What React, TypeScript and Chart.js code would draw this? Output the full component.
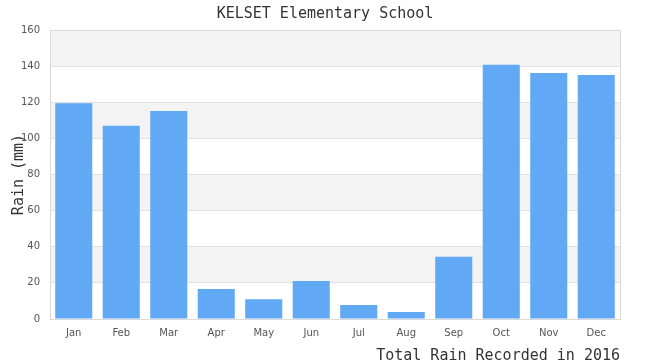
import React, { useEffect, useRef } from "react";
import { Chart, registerables } from "chart.js";

Chart.register(...registerables);

const months = ["Jan", "Feb", "Mar", "Apr", "May", "Jun", "Jul", "Aug", "Sep", "Oct", "Nov", "Dec"];
const rainMm = [119.5, 107, 115.2, 16.6, 11, 21, 7.8, 3.9, 34.5, 140.7, 136.2, 135.1];
const chartTitle = "KELSET Elementary School";
const yAxisTitle = "Rain (mm)";
const xAxisTitle = "Total Rain Recorded in 2016";

const W = 650;
const H = 372;

const bandsPlugin = {
  id: "bands",
  beforeDraw(chart: any) {
    const { ctx, chartArea } = chart;
    const y = chart.scales.y;
    ctx.save();
    ctx.fillStyle = "#ffffff";
    ctx.fillRect(0, 0, chart.width, chart.height);
    ctx.fillStyle = "#f3f3f3";
    const ticks = y.ticks.map((t: any) => t.value);
    for (let i = 0; i < ticks.length - 1; i++) {
      if ((ticks.length - 2 - i) % 2 === 0) {
        const y1 = y.getPixelForValue(ticks[i + 1]);
        const y0 = y.getPixelForValue(ticks[i]);
        ctx.fillRect(chartArea.left, y1, chartArea.right - chartArea.left, y0 - y1);
      }
    }
    ctx.restore();
  },
  beforeDatasetsDraw(chart: any) {
    const { ctx, chartArea } = chart;
    const l = Math.round(chartArea.left);
    const r = Math.round(chartArea.right);
    const t = Math.round(chartArea.top);
    const b = Math.round(chartArea.bottom);
    ctx.save();
    ctx.strokeStyle = "#d9d9d9";
    ctx.lineWidth = 1;
    ctx.strokeRect(l + 0.5, t + 0.5, r - l, b - t);
    ctx.restore();
  },
};

export default function App() {
  const ref = useRef<HTMLCanvasElement | null>(null);
  useEffect(() => {
    if (!ref.current) return;
    const chart = new Chart(ref.current, {
      type: "bar",
      data: {
        labels: months,
        datasets: [
          {
            data: rainMm,
            backgroundColor: "#61a8f5",
            borderWidth: 0,
            barPercentage: 0.78,
            categoryPercentage: 1,
          },
        ],
      },
      options: {
        responsive: false,
        animation: false,
        devicePixelRatio: 1,
        layout: { padding: 0 },
        plugins: {
          legend: { display: false },
          tooltip: { enabled: false },
          title: {
            display: true,
            text: chartTitle,
            color: "#333333",
            font: { family: "'DejaVu Sans Mono', monospace", size: 15, weight: "normal" },
            padding: { top: 5, bottom: 7 },
          },
        },
        scales: {
          x: {
            grid: { display: false, drawTicks: false },
            border: { display: false },
            ticks: {
              color: "#555555",
              font: { family: "'DejaVu Sans', sans-serif", size: 10 },
              padding: 8,
            },
            title: {
              display: true,
              text: xAxisTitle,
              align: "end",
              color: "#333333",
              font: { family: "'DejaVu Sans Mono', monospace", size: 15 },
              padding: { top: 0, bottom: 7 },
            },
            afterFit: (s: any) => {
              s.height = H - 319;
            },
          },
          y: {
            min: 0,
            max: 160,
            grid: { color: "#e2e2e2", lineWidth: 1, drawTicks: false },
            border: { display: false },
            ticks: {
              stepSize: 20,
              color: "#555555",
              font: { family: "'DejaVu Sans', sans-serif", size: 10 },
              padding: 10,
            },
            title: {
              display: true,
              text: yAxisTitle,
              color: "#333333",
              font: { family: "'DejaVu Sans Mono', monospace", size: 15 },
              padding: { top: 10, bottom: 0 },
            },
            afterFit: (s: any) => {
              s.width = 50;
            },
          },
          spacer: {
            type: "linear",
            position: "right",
            display: true,
            grid: { display: false, drawTicks: false },
            border: { display: false },
            ticks: { display: false },
            afterFit: (s: any) => {
              s.width = 30;
            },
          },
        },
      },
      plugins: [bandsPlugin],
    });
    return () => chart.destroy();
  }, []);
  return (
    <div style={{ position: "fixed", left: 0, top: 0, width: 650, height: 360, overflow: "hidden", background: "#fff" }}>
      <canvas ref={ref} width={W} height={H} style={{ display: "block", width: W, height: H }} />
    </div>
  );
}
